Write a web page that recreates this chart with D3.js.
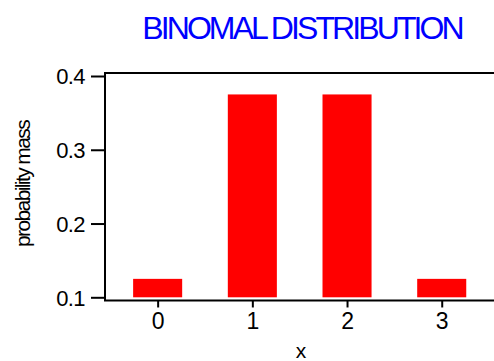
<!DOCTYPE html>
<html>
<head>
<meta charset="utf-8">
<script src="https://cdn.jsdelivr.net/npm/d3@7"></script>
<style>
  html, body { margin: 0; padding: 0; background: #fff; }
  svg { display: block; font-family: "Liberation Sans", Arial, sans-serif; }
</style>
</head>
<body>
<svg id="chart" width="494" height="361"></svg>
<script>
// Binomial pmf, n = 3, p = 0.5
const outcomes = [0, 1, 2, 3];
const probabilities = [0.125, 0.375, 0.375, 0.125];
const yTicks = [0.1, 0.2, 0.3, 0.4];
const yTickLabels = ["0.1", "0.2", "0.3", "0.4"];
const xTickLabels = ["0", "1", "2", "3"];
const titleText = "BINOMAL DISTRIBUTION";
const xTitle = "x";
const yTitle = "probability mass";

const svg = d3.select("#chart");

// Frame spans a little beyond the outer outcomes; the right edge runs off the page.
const x = d3.scaleLinear().domain([-0.556, 3.55]).range([105, 493.8]);
const y = d3.scaleLinear().domain([0.1, 0.4]).range([297.3, 76]);
const barBase = 0.1;
const barWidth = 0.518; // in outcome units

// Bars
svg.append("g")
  .selectAll("rect")
  .data(outcomes)
  .join("rect")
  .attr("x", (d) => x(d - barWidth / 2))
  .attr("width", (d) => x(d + barWidth / 2) - x(d - barWidth / 2))
  .attr("y", (d, i) => y(probabilities[i]))
  .attr("height", (d, i) => y(barBase) - y(probabilities[i]))
  .attr("fill", "#ff0000");

// Plot frame (top, left, bottom edges)
const fLeft = x.range()[0], fRight = 500;
const fTop = y(0.4041), fBottom = y(0.0957);
svg.append("path")
  .attr("d", `M${fRight},${fTop}H${fLeft}V${fBottom}H${fRight}`)
  .attr("fill", "none")
  .attr("stroke", "#000")
  .attr("stroke-width", 2);

// Y axis: ticks outside the frame
const yAxis = d3.axisLeft(y)
  .tickValues(yTicks)
  .tickFormat((d, i) => yTickLabels[i])
  .tickSize(14)
  .tickPadding(6);
const gy = svg.append("g").attr("transform", `translate(${fLeft},0)`).call(yAxis);
gy.select(".domain").remove();
gy.selectAll(".tick line").attr("stroke", "#000").attr("stroke-width", 2);
gy.selectAll(".tick text")
  .attr("font-family", "'Liberation Sans', Arial, sans-serif")
  .attr("font-size", 22)
  .attr("letter-spacing", -0.6)
  .attr("fill", "#000")
  .attr("dy", "0.36em");

// X axis: short ticks below the frame
const xAxis = d3.axisBottom(x)
  .tickValues(outcomes)
  .tickFormat((d, i) => xTickLabels[i])
  .tickSize(7)
  .tickPadding(5);
const gx = svg.append("g").attr("transform", `translate(0,${fBottom})`).call(xAxis);
gx.select(".domain").remove();
gx.selectAll(".tick line").attr("stroke", "#000").attr("stroke-width", 2);
gx.selectAll(".tick text")
  .attr("font-family", "'Liberation Sans', Arial, sans-serif")
  .attr("font-size", 23)
  .attr("fill", "#000");

// Title
svg.append("text")
  .attr("x", 302)
  .attr("y", 39)
  .attr("text-anchor", "middle")
  .attr("font-size", 32)
  .attr("letter-spacing", -2.9)
  .attr("fill", "#0000ff")
  .text(titleText);

// Axis titles
svg.append("text")
  .attr("x", 301)
  .attr("y", 358)
  .attr("text-anchor", "middle")
  .attr("font-size", 21)
  .attr("fill", "#000")
  .text(xTitle);

svg.append("text")
  .attr("transform", "translate(30,184) rotate(-90)")
  .attr("text-anchor", "middle")
  .attr("font-size", 21)
  .attr("letter-spacing", -1.6)
  .attr("fill", "#000")
  .text(yTitle);
</script>
</body>
</html>
